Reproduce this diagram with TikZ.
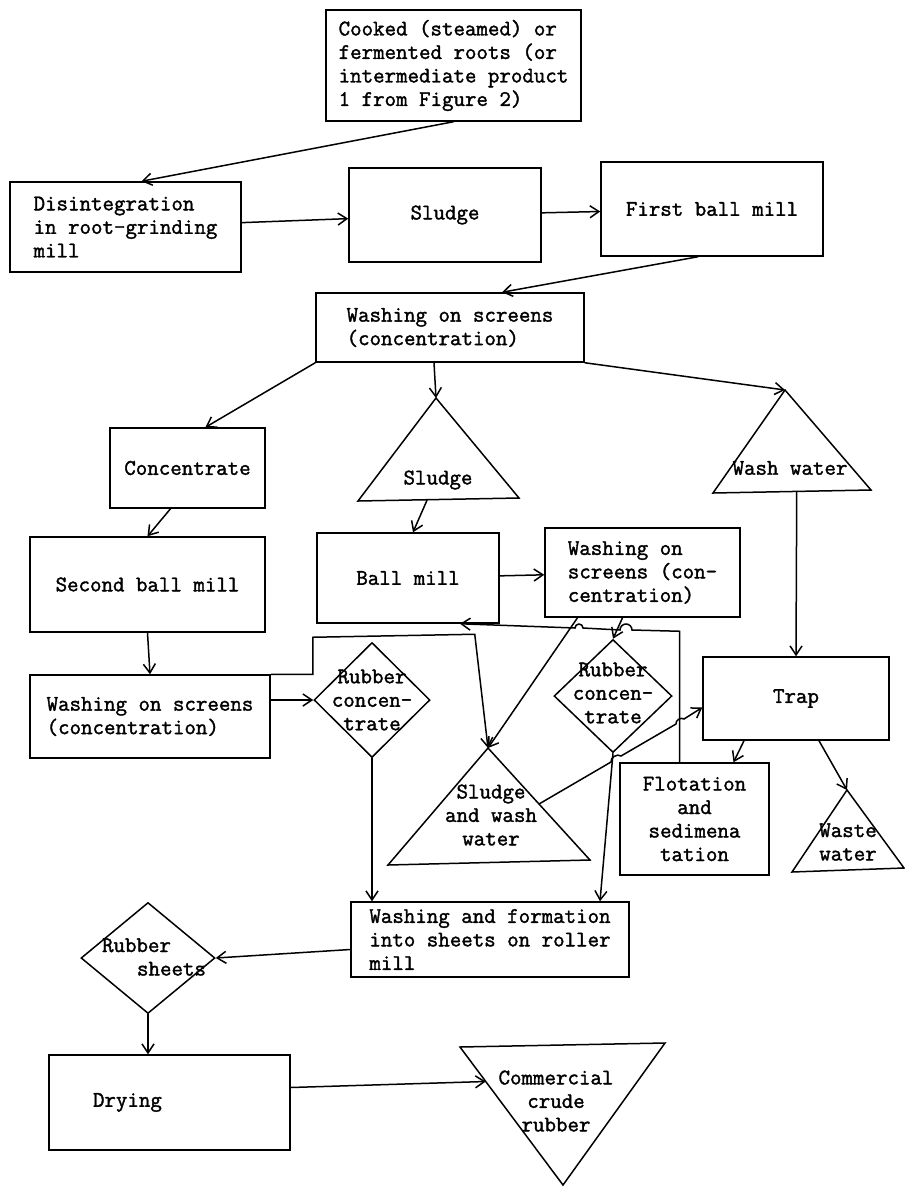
\documentclass[tikz,border=0pt]{standalone}
\usepackage{fontspec}
\setmonofont{Latin Modern Mono}[AutoFakeBold=1.6]
\usetikzlibrary{arrows.meta,calc,shapes.geometric}

\tikzset{
  box/.style={draw,rectangle,inner sep=0pt,align=left,font=\ttfamily\bfseries\fontsize{22.3}{23.5}\selectfont},
  gem/.style={draw,diamond,inner sep=0pt},
  lbl/.style={inner sep=0pt,align=center,font=\ttfamily\bfseries\fontsize{22.3}{23.5}\selectfont}
}

\begin{document}
\begin{tikzpicture}[x=1pt,y=-1pt,line width=1.5pt,>={Straight Barb[length=9pt,width=12pt]}]
\useasboundingbox (0,0) rectangle (905,1187);

\node[box,minimum width=255pt,minimum height=111pt] (roots) at (453.5,65.5) {Cooked (steamed) or\\fermented roots (or\\intermediate product\\1 from Figure 2)};
\node[box,minimum width=231pt,minimum height=90pt] (grind) at (125.5,227) {Disintegration\\in root-grinding\\mill};
\node[box,minimum width=192pt,minimum height=94pt] (sludgeA) at (445,215) {Sludge};
\node[box,minimum width=222pt,minimum height=94pt] (millA) at (712,209) {First ball mill};
\node[box,minimum width=268pt,minimum height=69pt] (washA) at (450,327.5) {Washing on screens\\(concentration)};
\node[box,minimum width=155pt,minimum height=80pt] (conc) at (187.5,468) {Concentrate};
\node[box,minimum width=235pt,minimum height=95pt] (millB) at (147.5,584.5) {Second ball mill};
\node[box,minimum width=182pt,minimum height=90pt] (millC) at (408,578) {Ball mill};
\node[box,minimum width=195pt,minimum height=89pt] (washC) at (642.5,572.5) {Washing on\\screens (con-\\centration)};
\node[box,minimum width=240pt,minimum height=83pt] (washB) at (150,716.5) {Washing on screens\\(concentration)};
\node[box,minimum width=186pt,minimum height=83pt] (trap) at (796,698.5) {Trap};
\node[box,minimum width=149pt,minimum height=112pt,align=center] (flot) at (694.5,819) {Flotation\\and\\sedimena\\tation};
\node[box,minimum width=278pt,minimum height=75pt] (sheet) at (490,939.5) {Washing and formation\\into sheets on roller\\mill};
\node[box,minimum height=95pt,text width=153pt,inner xsep=44pt] (dry) at (169.5,1102.5) {Drying};

\node[gem,minimum width=116pt,minimum height=115pt] (rubA) at (372,700) {};
\node[lbl] (rubAt) at (rubA) {Rubber\\concen-\\trate};
\node[gem,minimum width=118pt,minimum height=113pt] (rubB) at (613,696) {};
\node[lbl] (rubBt) at (613,693) {Rubber\\concen-\\trate};
\node[gem,minimum width=134pt,minimum height=111pt] (rubS) at (148,958) {};
\node[lbl,align=left] (rubSt) at (154,957) {Rubber\\\hspace*{35pt}sheets};

\draw (436,398) coordinate (sludgeBtop) -- (519,498) coordinate (sludgeBr) -- (358,501) coordinate (sludgeBl) -- cycle;
\node[lbl] (sludgeB) at (438,480) {Sludge};
\draw (785,390) coordinate (wwtop) -- (871,490) coordinate (wwr) -- (713,493) coordinate (wwl) -- cycle;
\node[lbl] (ww) at (790,468) {Wash water};
\draw (488,748) coordinate (swtop) -- (590,860) coordinate (swr) -- (388,865) coordinate (swl) -- cycle;
\node[lbl] (sw) at (491,815) {Sludge\\and wash\\water};
\draw (847,790) coordinate (wastetop) -- (904,868) -- (792,872) -- cycle;
\node[lbl] (waste) at (848,842) {Waste\\water};
\draw (460,1047) coordinate (crudel) -- (665,1043) -- (563,1185) coordinate (crudeb) -- cycle;
\node[lbl] (crude) at (556,1101) {Commercial\\crude\\rubber};

\draw[->] (roots.south) -- ($(grind.north)+(16,0)$);
\draw[->] (grind) -- (sludgeA);
\draw[->] (sludgeA) -- (millA);
\draw[->] ($(millA.south)+(-14,0)$) -- ($(washA.north)+(52,0)$);
\draw[->] (washA.south west) -- ($(conc.north)+(18,0)$);
\draw[->] ($(washA.south)+(-16,0)$) -- (sludgeBtop);
\draw[->] (washA.south east) -- (wwtop);
\draw[->] ($(conc.south)+(-17,0)$) -- (millB.north);
\draw[->] ($(sludgeBl)!.43!(sludgeBr)$) -- ($(millC.north)+(5,0)$);
\draw[->] (millC) -- (washC);
\draw[->] ($(wwl)!.53!(wwr)$) -- (trap.north);
\draw[->] (millB.south) -- (washB.north);
\draw[->] (rubA.west -| washB.east) -- (rubA.west);
\draw[->] (washB.north east) -- ++(42,0) -- ++(0,-37) -- ++(162,-3) -- (swtop);
\draw[->] ($(washC.south)+(-65,0)$) -- (swtop);
\draw[->] ($(washC.south)+(-20,0)$) -- (rubB.north);
\draw[->] ($(flot.north)+(-15,0)$) -- ++(0,-131) -- (632,630) arc[start angle=0,end angle=-180,radius=6]
  -- (583,628) arc[start angle=0,end angle=-180,radius=4] -- ($(millC.south)+(52,0)$);
\draw[->] ($(swtop)!.5!(swr)$) -- (611,762) to[bend left=70] (621,756) -- (676,724) to[bend left=70] (684,719) -- ($(trap.west)+(0,9)$);
\draw[->] ($(trap.south)+(-52,0)$) -- ($(flot.north)+(39,0)$);
\draw[->] ($(trap.south)+(23,0)$) -- (wastetop);
\draw[->] (rubA.south) -- (rubA.south |- sheet.north);
\draw[->] (rubB.south) -- ($(sheet.north)+(110,0)$);
\draw[->] ($(sheet.west)+(0,10)$) -- (rubS.east);
\draw[->] (rubS.south) -- (rubS.south |- dry.north);
\draw[->] ($(dry.east)+(0,-15)$) -- ($(crudel)!.25!(crudeb)$);

\end{tikzpicture}
\end{document}
